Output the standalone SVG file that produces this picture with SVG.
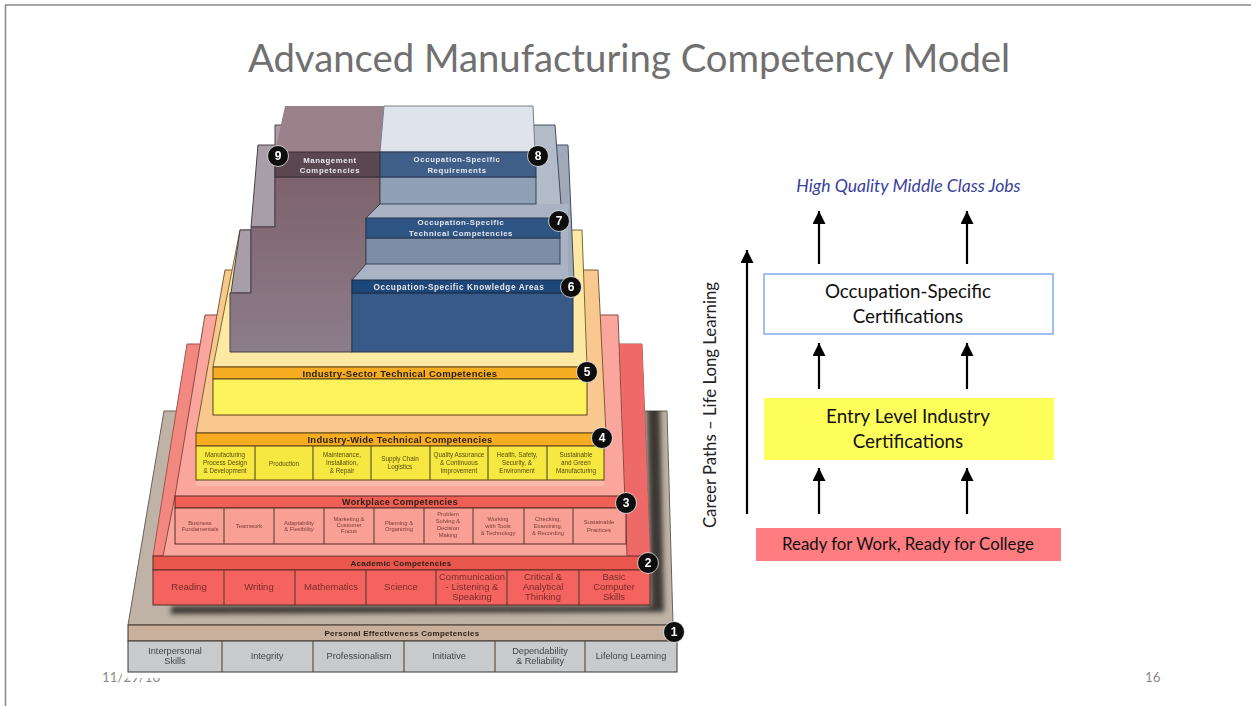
<svg xmlns="http://www.w3.org/2000/svg" width="1251" height="706" viewBox="0 0 1251 706">
<style>
.ui{font-family:Lato,"Liberation Sans",sans-serif}
.pt{font-family:"Liberation Sans",Arial,sans-serif;text-anchor:middle}
.bh{font-weight:700;font-size:8px;fill:#2a1f14;letter-spacing:.3px}
.bw{font-weight:700;font-size:7.800px;fill:#e8e8ee;letter-spacing:.6px}
.c1{font-size:9.200px;fill:#444}
.c2{font-size:9.500px;fill:#7a2a28}
.c3{font-size:5.800px;fill:#7a3a34}
.c4{font-size:6.300px;fill:#5a4a10}
.bg{font-weight:700;font-size:12px;fill:#fff}
.cell{stroke:#4a3a28;stroke-width:1}
.bb{fill:#111;stroke:#fff;stroke-width:.7}
.lbl{font-size:18.800px;fill:#111;text-anchor:middle}
.arr{stroke:#000;stroke-width:2.200;fill:none;marker-end:url(#ah)}
</style>
<defs>
<marker id="ah" markerUnits="userSpaceOnUse" markerWidth="14" markerHeight="13" refX="13" refY="6.500" orient="auto"><path d="M0 0L13 6.500L0 13Z" fill="#000"/></marker>
<filter id="soft" x="-5%" y="-5%" width="110%" height="110%"><feGaussianBlur stdDeviation=".45"/></filter>
<filter id="sh" x="-10%" y="-10%" width="120%" height="120%"><feGaussianBlur stdDeviation="2.500"/></filter>
<clipPath id="t1clip"><path d="M164 411H667L673 625H128Z"/></clipPath>
<linearGradient id="purp" x1="0" y1="0" x2="0" y2="1"><stop offset="0" stop-color="#7d626c"/><stop offset="1" stop-color="#8c7d8a"/></linearGradient>
</defs>
<rect width="1251" height="706" fill="#fff"/>
<path d="M5.500 706V5H1251" fill="none" stroke="#8c8c8c" stroke-width="1.600"/>
<text id="title" class="ui" x="629" y="72" font-size="38.300" fill="#707070" text-anchor="middle">Advanced Manufacturing Competency Model</text>
<text id="date" class="ui" x="102" y="682" font-size="13.300" fill="#8a8a8a">11/29/16</text>
<text id="page" class="ui" x="1145" y="682" font-size="13.300" fill="#8a8a8a">16</text>
<rect x="122" y="660" width="562" height="18" fill="#fff"/>
<g id="pyramid" filter="url(#soft)">
<g id="tier1">
<path d="M164 411H667L673 625H128Z" fill="#bfb3a7" stroke="#6a6258"/>
<g clip-path="url(#t1clip)"><path d="M647 405H660L664 612L170 614L172 606H651Z" fill="#2e2a28" filter="url(#sh)" opacity=".9"/></g>
<rect x="128" y="625" width="546" height="16" fill="#c9b09c" stroke="#3a3028"/>
<rect x="128" y="641" width="549" height="31" fill="#c9cacb" stroke="#3a3a3a"/>
<path class="cell" d="M222 641V672M313 641V672M404 641V672M495 641V672M585 641V672"/>
<text class="pt bh" x="402" y="636">Personal Effectiveness Competencies</text>
<text class="pt c1" x="175" y="654">Interpersonal</text><text class="pt c1" x="175" y="664">Skills</text>
<text class="pt c1" x="267" y="659">Integrity</text>
<text class="pt c1" x="359" y="659">Professionalism</text>
<text class="pt c1" x="449" y="659">Initiative</text>
<text class="pt c1" x="540" y="654">Dependability</text><text class="pt c1" x="540" y="664">&amp; Reliability</text>
<text class="pt c1" x="631" y="659">Lifelong Learning</text>
</g>
<g id="tier2">
<path d="M187 344H642L650 556H153Z" fill="#f28880" stroke="#a8544c"/>
<path d="M620 344H642L650 556H627Z" fill="#ee6b68"/>
<rect x="153" y="556" width="497" height="14" fill="#e8574e" stroke="#5a2a24"/>
<rect x="153" y="570" width="497" height="35" fill="#f4645f" stroke="#5a2a24"/>
<path class="cell" d="M224 570V605M295 570V605M366 570V605M436 570V605M507 570V605M579 570V605"/>
<text class="pt bh" x="401" y="566">Academic Competencies</text>
<text class="pt c2" x="189" y="590">Reading</text>
<text class="pt c2" x="259" y="590">Writing</text>
<text class="pt c2" x="331" y="590">Mathematics</text>
<text class="pt c2" x="401" y="590">Science</text>
<text class="pt c2" x="472" y="580">Communication</text><text class="pt c2" x="472" y="590">- Listening &amp;</text><text class="pt c2" x="472" y="600">Speaking</text>
<text class="pt c2" x="543" y="580">Critical &amp;</text><text class="pt c2" x="543" y="590">Analytical</text><text class="pt c2" x="543" y="600">Thinking</text>
<text class="pt c2" x="614" y="580">Basic</text><text class="pt c2" x="614" y="590">Computer</text><text class="pt c2" x="614" y="600">Skills</text>
</g>
<g id="tier3">
<path d="M205 315H618L627 556H163L175 496Z" fill="#fba69c" stroke="#8a4a42"/>
<rect x="175" y="496" width="451" height="12" fill="#ef5f55" stroke="#5a2a24"/>
<rect x="175" y="508" width="451" height="36" fill="#f9a094" stroke="#5a2a24"/>
<path class="cell" d="M224 508V544M274 508V544M324 508V544M374 508V544M424 508V544M473 508V544M524 508V544M573 508V544"/>
<text class="pt bh" x="400" y="505" style="font-size:9px">Workplace Competencies</text>
<text class="pt c3" x="200" y="525">Business</text><text class="pt c3" x="200" y="531">Fundamentals</text>
<text class="pt c3" x="249" y="528">Teamwork</text>
<text class="pt c3" x="299" y="525">Adaptability</text><text class="pt c3" x="299" y="531">&amp; Flexibility</text>
<text class="pt c3" x="349" y="521">Marketing &amp;</text><text class="pt c3" x="349" y="527">Customer</text><text class="pt c3" x="349" y="533">Focus</text>
<text class="pt c3" x="399" y="525">Planning &amp;</text><text class="pt c3" x="399" y="531">Organizing</text>
<text class="pt c3" x="448" y="516">Problem</text><text class="pt c3" x="448" y="523">Solving &amp;</text><text class="pt c3" x="448" y="530">Decision</text><text class="pt c3" x="448" y="537">Making</text>
<text class="pt c3" x="498" y="521">Working</text><text class="pt c3" x="498" y="528">with Tools</text><text class="pt c3" x="498" y="535">&amp; Technology</text>
<text class="pt c3" x="548" y="521">Checking,</text><text class="pt c3" x="548" y="528">Examining,</text><text class="pt c3" x="548" y="535">&amp; Recording</text>
<text class="pt c3" x="599" y="524">Sustainable</text><text class="pt c3" x="599" y="532">Practices</text>
</g>
<g id="tier4">
<path d="M225 270H598L606 433H196Z" fill="#f8c88e" stroke="#7a5a30"/>
<path d="M196 433H604V486H196Z" fill="#f9b9ab"/>
<rect x="196" y="433" width="408" height="13" fill="#f6ad22" stroke="#5a4018"/>
<rect x="196" y="446" width="408" height="34" fill="#f6e840" stroke="#5a4018"/>
<path class="cell" d="M255 446V480M313 446V480M371 446V480M430 446V480M488 446V480M547 446V480"/>
<text class="pt bh" x="400" y="443" style="font-size:9.400px">Industry-Wide Technical Competencies</text>
<text class="pt c4" x="225" y="457">Manufacturing</text><text class="pt c4" x="225" y="465">Process Design</text><text class="pt c4" x="225" y="473">&amp; Development</text>
<text class="pt c4" x="284" y="466">Production</text>
<text class="pt c4" x="342" y="457">Maintenance,</text><text class="pt c4" x="342" y="465">Installation,</text><text class="pt c4" x="342" y="473">&amp; Repair</text>
<text class="pt c4" x="400" y="461">Supply Chain</text><text class="pt c4" x="400" y="469">Logistics</text>
<text class="pt c4" x="459" y="457">Quality Assurance</text><text class="pt c4" x="459" y="465">&amp; Continuous</text><text class="pt c4" x="459" y="473">Improvement</text>
<text class="pt c4" x="517" y="457">Health, Safety,</text><text class="pt c4" x="517" y="465">Security, &amp;</text><text class="pt c4" x="517" y="473">Environment</text>
<text class="pt c4" x="576" y="457">Sustainable</text><text class="pt c4" x="576" y="465">and Green</text><text class="pt c4" x="576" y="473">Manufacturing</text>
</g>
<g id="tier5">
<path d="M240 230H582L587 367H213Z" fill="#fbe9a4" stroke="#7a6a30"/>
<rect x="213" y="367" width="374" height="12" fill="#f6ad22" stroke="#5a4018"/>
<rect x="213" y="379" width="374" height="36" fill="#fbf25c" stroke="#5a4018"/>
<text class="pt bh" x="400" y="377" style="font-size:9.500px">Industry-Sector Technical Competencies</text>
</g>
<g id="tier6to9">
<path d="M300 145H568L574 280H300Z" fill="#9fa9ba" stroke="#444c5c"/>
<path d="M300 125H555L562 218H300Z" fill="#b3bac8" stroke="#444c5c"/>
<path d="M300 204H568V280H300Z" fill="#a9b3c4"/>
<path d="M275 125H285L275 152Z" fill="#a89ea8" stroke="#4a4048"/>
<path d="M258 145H275V227H251Z" fill="#a89ea8" stroke="#4a4048"/>
<path d="M240 230H251V293H231Z" fill="#a89ea8" stroke="#4a4048"/>
<path d="M285 106H384L380 152H275Z" fill="#9a8088"/>
<path d="M384 106H533L535 152H380Z" fill="#dfe4ec" stroke="#777e8a"/>
<path d="M275 177H380V204L366 218V264L352 280V352H230V293H251V227H275Z" fill="url(#purp)" stroke="#4a3c48"/>
<rect x="275" y="152" width="105" height="25" fill="#5a4650" stroke="#3a2c34"/>
<rect x="380" y="177" width="156" height="27" fill="#8ea0b6" stroke="#3a4454"/>
<rect x="380" y="152" width="156" height="25" fill="#3f5f88" stroke="#26364e"/>
<rect x="366" y="238" width="194" height="26" fill="#7c8ea6" stroke="#3a4454"/>
<rect x="366" y="218" width="194" height="20" fill="#2f5484" stroke="#26364e"/>
<rect x="352" y="293" width="221" height="59" fill="#385a88" stroke="#26364e"/>
<rect x="352" y="280" width="221" height="13" fill="#1f4678" stroke="#1a2c48"/>
<text class="pt bw" x="330" y="163">Management</text><text class="pt bw" x="330" y="173">Competencies</text>
<text class="pt bw" x="457" y="162">Occupation-Specific</text><text class="pt bw" x="457" y="173">Requirements</text>
<text class="pt bw" x="461" y="225">Occupation-Specific</text><text class="pt bw" x="461" y="236">Technical Competencies</text>
<text class="pt bw" x="459" y="290" style="font-size:8.200px">Occupation-Specific Knowledge Areas</text>
</g>
<g id="badge1"><circle class="bb" cx="674" cy="632" r="10.500"/><text class="pt bg" x="674" y="636">1</text></g>
<g id="badge2"><circle class="bb" cx="648" cy="563" r="10.500"/><text class="pt bg" x="648" y="567">2</text></g>
<g id="badge3"><circle class="bb" cx="626" cy="503" r="10.500"/><text class="pt bg" x="626" y="507">3</text></g>
<g id="badge4"><circle class="bb" cx="602" cy="438" r="10.500"/><text class="pt bg" x="602" y="442">4</text></g>
<g id="badge5"><circle class="bb" cx="587" cy="372" r="10.500"/><text class="pt bg" x="587" y="376">5</text></g>
<g id="badge6"><circle class="bb" cx="571" cy="287" r="10.500"/><text class="pt bg" x="571" y="291">6</text></g>
<g id="badge7"><circle class="bb" cx="559" cy="221" r="10.500"/><text class="pt bg" x="559" y="225">7</text></g>
<g id="badge8"><circle class="bb" cx="538" cy="156" r="10.500"/><text class="pt bg" x="538" y="160">8</text></g>
<g id="badge9"><circle class="bb" cx="278" cy="156" r="10.500"/><text class="pt bg" x="278" y="160">9</text></g>
</g>
<g id="connectors">
<path class="arr" d="M747 514V250"/>
<path class="arr" d="M819 264V211"/><path class="arr" d="M967 264V211"/>
<path class="arr" d="M819 389V343"/><path class="arr" d="M967 389V343"/>
<path class="arr" d="M819 514V468"/><path class="arr" d="M967 514V468"/>
</g>
<g id="jobs"><text class="ui" x="908.500" y="192" font-size="17.600" font-style="italic" fill="#3a3f9e" text-anchor="middle">High Quality Middle Class Jobs</text></g>
<g id="occupation"><rect x="764" y="274" width="289" height="60" fill="#fff" stroke="#6f9ef0" stroke-width="1.300"/>
<text class="ui lbl" x="908" y="298">Occupation-Specific</text><text class="ui lbl" x="908" y="323">Certifications</text></g>
<g id="entry"><rect x="764" y="398" width="290" height="62" fill="#ffff5c"/>
<text class="ui lbl" x="908" y="423">Entry Level Industry</text><text class="ui lbl" x="908" y="448">Certifications</text></g>
<g id="ready"><rect x="756" y="528" width="305" height="33" fill="#ff7c80"/>
<text class="ui" x="908" y="550" font-size="16.800" fill="#111" text-anchor="middle">Ready for Work, Ready for College</text></g>
<g id="career"><text class="ui" transform="translate(716 405) rotate(-90)" font-size="16.800" fill="#222" text-anchor="middle">Career Paths – Life Long Learning</text></g>
</svg>
